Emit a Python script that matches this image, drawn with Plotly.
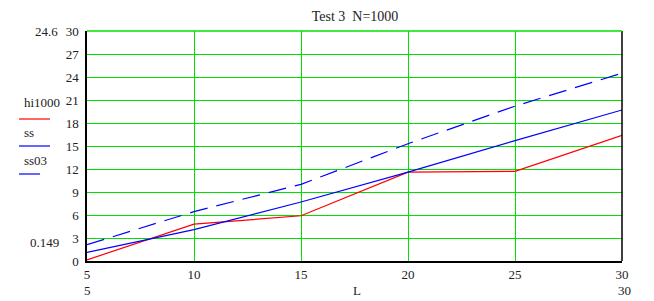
import plotly.graph_objects as go

L = [5, 10, 15, 20, 25, 30]
hi1000 = [0.149, 4.8, 5.9, 11.6, 11.7, 16.4]
ss = [1.13, 4.1, 7.7, 11.6, 15.7, 19.7]
ss03 = [2.13, 6.44, 10.0, 15.3, 20.2, 24.5]
y_ticks = [0, 3, 6, 9, 12, 15, 18, 21, 24, 27, 30]
x_ticks = [5, 10, 15, 20, 25, 30]

FONT = "Liberation Serif, Times New Roman, serif"
GREEN = "#00e000"

fig = go.Figure()
fig.add_trace(go.Scatter(x=L, y=hi1000, mode="lines", line=dict(color="#ff0000", width=1.2), name="hi1000"))
fig.add_trace(go.Scatter(x=L, y=ss, mode="lines", line=dict(color="#0000ff", width=1.2), name="ss"))
fig.add_trace(go.Scatter(x=L, y=ss03, mode="lines", line=dict(color="#0000ff", width=1.2, dash="18px,9px"), name="ss03"))

fig.update_layout(
    width=654, height=301,
    margin=dict(l=87, r=32, t=31, b=40),
    paper_bgcolor="white", plot_bgcolor="white",
    showlegend=False,
    font=dict(family=FONT, size=13, color="#222"),
    title=dict(text="Test 3\u00a0\u00a0N=1000", x=355/654, xanchor="center", y=1-16/301, yanchor="middle",
               font=dict(family=FONT, size=14, color="#222")),
    xaxis=dict(range=[5, 30], tickvals=x_ticks, showgrid=True, gridcolor=GREEN, gridwidth=1.3,
               zeroline=False, showline=True, linecolor="black", linewidth=1.5, mirror=False,
               ticks="", ticklabelstandoff=1, tickfont=dict(family=FONT, size=13)),
    yaxis=dict(range=[0, 30], tickvals=y_ticks, showgrid=True, gridcolor=GREEN, gridwidth=1.3,
               zeroline=False, showline=True, linecolor="black", linewidth=1.5,
               ticks="", ticklabelstandoff=4, tickfont=dict(family=FONT, size=13)),
)
# right border
fig.add_shape(type="line", xref="paper", yref="paper", x0=1, x1=1, y0=0, y1=1,
              line=dict(color="black", width=1.5))
# top border (green, as the 30 gridline)
fig.add_shape(type="line", xref="paper", yref="paper", x0=0, x1=1, y0=1, y1=1,
              line=dict(color=GREEN, width=1.5))

def px_x(px):
    return (px - 87) / (622 - 87)

def px_y(py):
    return (261 - py) / (261 - 31)

# bottom labels
for t, xx in [("5", 87), ("L", 357), ("30", 624)]:
    fig.add_annotation(text=t, xref="paper", yref="paper", x=px_x(xx), y=px_y(290),
                       showarrow=False, xanchor="center", yanchor="middle",
                       font=dict(family=FONT, size=13, color="#222"))

# corner limit labels
for t, xx, yy in [("24.6", 46, 32), ("0.149", 44, 242)]:
    fig.add_annotation(text=t, xref="paper", yref="paper", x=px_x(xx), y=px_y(yy),
                       showarrow=False, xanchor="center", yanchor="middle",
                       font=dict(family=FONT, size=13, color="#222"))

# legend
legend = [("hi1000", 102, 119, "#ff0000", 50),
          ("ss", 132, 146, "#0000ff", 50),
          ("ss03", 160, 174, "#0000ff", 40)]
for t, ty, ly, col, x1 in legend:
    fig.add_annotation(text=t, xref="paper", yref="paper", x=px_x(22), y=px_y(ty),
                       showarrow=False, xanchor="left", yanchor="middle",
                       font=dict(family=FONT, size=13, color="#222"))
    fig.add_shape(type="line", xref="paper", yref="paper", x0=px_x(19), x1=px_x(x1),
                  y0=px_y(ly), y1=px_y(ly), line=dict(color=col, width=1.2))

fig.write_html("out.html")
